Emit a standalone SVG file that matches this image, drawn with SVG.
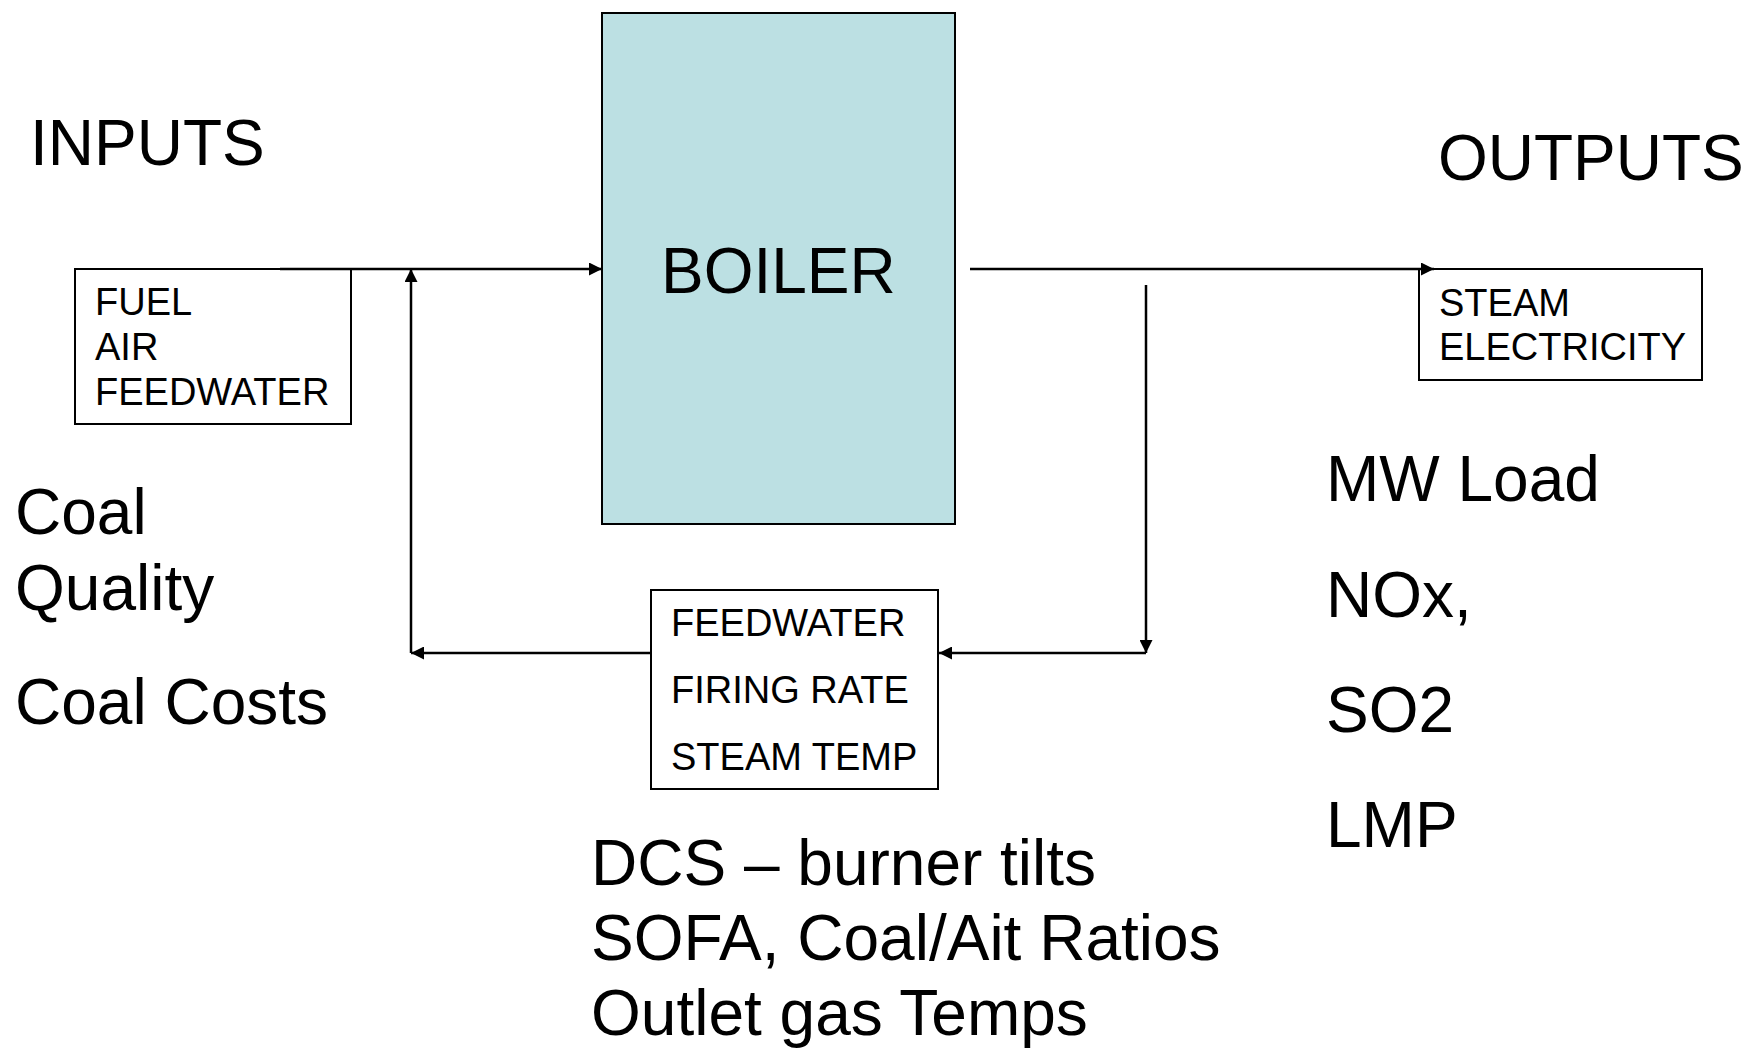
<svg xmlns="http://www.w3.org/2000/svg" width="1745" height="1048" viewBox="0 0 1745 1048">
<style>
text{font-family:"Liberation Sans",Arial,sans-serif;fill:#000}
.big{font-size:64px}
.sm{font-size:38px}
.box{fill:#fff;stroke:#000;stroke-width:2}
.ln{fill:none;stroke:#000;stroke-width:2.5}
</style>
<defs>
<marker id="ah" viewBox="0 0 10 10" refX="10" refY="5" markerWidth="16" markerHeight="13" markerUnits="userSpaceOnUse" orient="auto">
<path d="M0,0 L10,5 L0,10 z" fill="#000"/>
</marker>
</defs>
<rect width="1745" height="1048" fill="#fff"/>
<g id="labels">
<text class="big" x="30" y="165">INPUTS</text>
<text class="big" x="1438" y="180">OUTPUTS</text>
<text class="big" x="15" y="534">Coal</text>
<text class="big" x="15" y="610">Quality</text>
<text class="big" x="15" y="724">Coal Costs</text>
<text class="big" x="1326" y="501">MW Load</text>
<text class="big" x="1326" y="617">NOx,</text>
<text class="big" x="1326" y="732">SO2</text>
<text class="big" x="1326" y="847">LMP</text>
<text class="big" x="591" y="885">DCS – burner tilts</text>
<text class="big" x="591" y="960">SOFA, Coal/Ait Ratios</text>
<text class="big" x="591" y="1035">Outlet gas Temps</text>
</g>
<g id="boiler">
<rect x="602" y="13" width="353" height="511" fill="#bce0e3" stroke="#000" stroke-width="2"/>
<text class="big" x="661" y="293">BOILER</text>
</g>
<g id="inputs">
<rect class="box" x="75" y="269" width="276" height="155"/>
<text class="sm" x="95" y="315">FUEL</text>
<text class="sm" x="95" y="360">AIR</text>
<text class="sm" x="95" y="405">FEEDWATER</text>
</g>
<g id="outputs">
<rect class="box" x="1419" y="269" width="283" height="111"/>
<text class="sm" x="1439" y="316">STEAM</text>
<text class="sm" x="1439" y="360">ELECTRICITY</text>
</g>
<g id="control">
<rect class="box" x="651" y="590" width="287" height="199"/>
<text class="sm" x="671" y="636">FEEDWATER</text>
<text class="sm" x="671" y="703">FIRING RATE</text>
<text class="sm" x="671" y="770">STEAM TEMP</text>
</g>
<g id="connectors">
<line class="ln" x1="280" y1="269" x2="602" y2="269" marker-end="url(#ah)"/>
<line class="ln" x1="970" y1="269" x2="1434" y2="269" marker-end="url(#ah)"/>
<line class="ln" x1="1146" y1="285" x2="1146" y2="653" marker-end="url(#ah)" stroke-width="1.8"/>
<line class="ln" x1="1146" y1="653" x2="939" y2="653" marker-end="url(#ah)"/>
<line class="ln" x1="651" y1="653" x2="411" y2="653" marker-end="url(#ah)"/>
<line class="ln" x1="411" y1="653" x2="411" y2="269" marker-end="url(#ah)"/>
</g>
</svg>
